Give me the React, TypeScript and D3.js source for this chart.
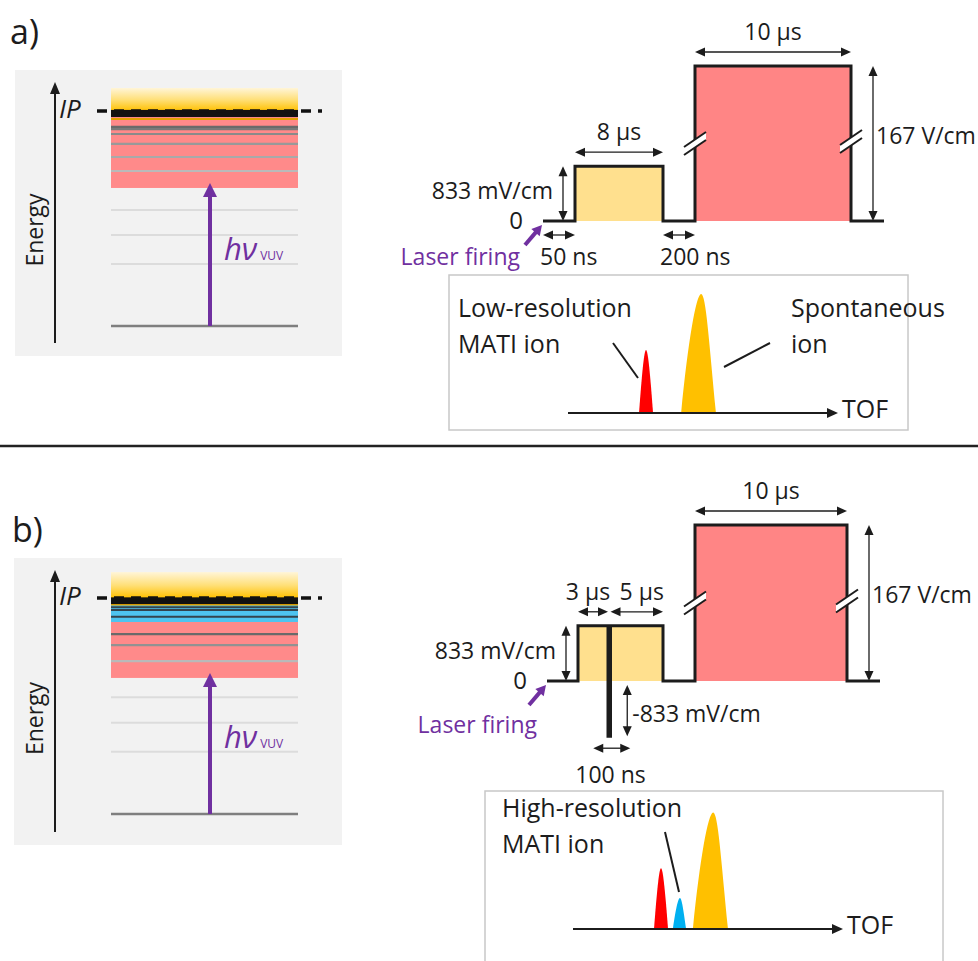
import React from "react";
import * as d3 from "d3";

const FONT = "'Open Sans', 'Liberation Sans', Arial, sans-serif";
const INK = "#1c1c1c";
const PURPLE = "#7030A0";
const FS = 23;

// ---------- energy-level diagrams (energy in % of the ionization potential) ----------
const energyAxisLabel = "Energy";
const ipLabel = "IP";
const ionizationPotential = 100;
const groundLevel = 0;
const boundLevels = [54.0, 42.3, 28.8];
const continuumTopA = 110.7;
const continuumTopB = 112;
const denseBandA = [97.2, 100.5];
const denseBandB = [97.2, 100.3];
const orangeLevelsA = [96.3];
const orangeLevelsB = [97.0];
const rydbergBottomA = 64.2;
const rydbergBottomB = 63.0;
const rydbergLevelsA = [92.6, 91.6, 89.3, 84.7, 78.6, 72.1];
const rydbergLevelsB = [83.3, 78.2, 70.8];
const selectedBandB = [88.9, 96.8];
const selectedLevelsB = [95.7, 94.4, 91.3];

// ---------- pulsed-field sequences (times in µs, fields in V/cm) ----------
const pulseEdgesA = [0, 0.05, 8.05, 8.25, 18.25];
const pulseFieldsA = [0, 0.833, 0, 167, 0];
const pulseEdgesB = [0, 0.05, 3.05, 3.15, 8.05, 8.25, 18.25];
const pulseFieldsB = [0, 0.833, -0.833, 0.833, 0, 167, 0];
const durationsA = [
  { segment: 0, text: "50 ns" },
  { segment: 1, text: "8 µs" },
  { segment: 2, text: "200 ns" },
  { segment: 3, text: "10 µs" },
];
const durationsB = [
  { segment: 1, text: "3 µs" },
  { segment: 2, text: "100 ns" },
  { segment: 3, text: "5 µs" },
  { segment: 5, text: "10 µs" },
];
const fieldLabels = { zero: "0", low: "833 mV/cm", high: "167 V/cm", negative: "-833 mV/cm" };
const laserLabel = "Laser firing";

// ---------- time-of-flight sketches (TOF in arbitrary units, intensity in %) ----------
const tofLabel = "TOF";
const peaksA = [
  { kind: "mati", start: 26.3, apex: 28.9, end: 31.5, height: 53 },
  { kind: "spont", start: 41.9, apex: 49.3, end: 54.8, height: 100 },
];
const peaksB = [
  { kind: "mati", start: 30.0, apex: 32.6, end: 35.2, height: 51 },
  { kind: "hires", start: 37.0, apex: 39.6, end: 41.9, height: 26 },
  { kind: "spont", start: 44.4, apex: 51.9, end: 57.4, height: 98 },
];
const peakLabelsA = [["Low-resolution", "MATI ion"], ["Spontaneous", "ion"]];
const peakLabelsB = [["High-resolution", "MATI ion"]];

const PEAK_COLORS: Record<string, string> = { mati: "#FF0000", hires: "#00B0F0", spont: "#FFC000" };

function Arrow({ x1, y1, x2, y2, color = INK, width = 1.3, head = 10, headW = 9, both = false }: any) {
  const dx = x2 - x1, dy = y2 - y1;
  const L = Math.hypot(dx, dy);
  const ux = dx / L, uy = dy / L;
  const tri = (tx: number, ty: number, sx: number, sy: number) => {
    const bx = tx - sx * head, by = ty - sy * head;
    const px = (-sy * headW) / 2, py = (sx * headW) / 2;
    return `M${tx},${ty}L${bx + px},${by + py}L${bx - px},${by - py}Z`;
  };
  const sx1 = both ? x1 + ux * head * 0.8 : x1;
  const sy1 = both ? y1 + uy * head * 0.8 : y1;
  const ex = x2 - ux * head * 0.8, ey = y2 - uy * head * 0.8;
  return (
    <g>
      <line x1={sx1} y1={sy1} x2={ex} y2={ey} stroke={color} strokeWidth={width} />
      <path d={tri(x2, y2, ux, uy)} fill={color} />
      {both && <path d={tri(x1, y1, -ux, -uy)} fill={color} />}
    </g>
  );
}

type EnergyProps = {
  box: number[]; y0: number; yIP: number; gid: string; continuumTop: number; dense: number[];
  orange: number[]; rydbergBottom: number; rydberg: number[]; selBand?: number[]; selLevels?: number[];
};

function EnergyPanel(p: EnergyProps) {
  const y = d3.scaleLinear().domain([groundLevel, ionizationPotential]).range([p.y0, p.yIP]);
  const bx0 = 111, bx1 = 298, bw = bx1 - bx0;
  const [bx, by, bwid, bh] = p.box;
  const axisX = 55, arrowX = 210;
  const shade = d3
    .scaleLinear<string>()
    .domain([0, Math.max(1, p.rydberg.length - 1)])
    .range(["#6a6a6a", "#b9b9b9"]);
  return (
    <g>
      <defs>
        <linearGradient id={p.gid} x1="0" y1="0" x2="0" y2="1">
          <stop offset="0" stopColor="#FFF5D8" />
          <stop offset="0.5" stopColor="#FFE07A" />
          <stop offset="1" stopColor="#FFC000" />
        </linearGradient>
      </defs>
      <rect x={bx} y={by} width={bwid} height={bh} fill="#F2F2F2" />
      <rect x={bx0} y={y(p.continuumTop)} width={bw} height={y(ionizationPotential) - y(p.continuumTop)} fill={`url(#${p.gid})`} />
      <rect x={bx0} y={y(ionizationPotential)} width={bw} height={y(p.rydbergBottom) - y(ionizationPotential)} fill="#FF8A8A" />
      {p.selBand && (
        <rect x={bx0} y={y(p.selBand[1])} width={bw} height={y(p.selBand[0]) - y(p.selBand[1])} fill="#4EC4F0" />
      )}
      {p.rydberg.map((e, i) => (
        <line key={"r" + i} x1={bx0} x2={bx1} y1={y(e)} y2={y(e)} stroke={shade(i)} strokeWidth={2.2} />
      ))}
      {(p.selLevels || []).map((e, i) => (
        <line key={"s" + i} x1={bx0} x2={bx1} y1={y(e)} y2={y(e)} stroke="#34444e" strokeWidth={2} />
      ))}
      {p.orange.map((e, i) => (
        <line key={"o" + i} x1={bx0} x2={bx1} y1={y(e)} y2={y(e)} stroke="#E0A000" strokeWidth={2} />
      ))}
      <rect x={bx0} y={y(p.dense[1])} width={bw} height={y(p.dense[0]) - y(p.dense[1])} fill="#111" />
      <line x1={97} x2={322} y1={y(ionizationPotential)} y2={y(ionizationPotential)} stroke="#111" strokeWidth={3.5} strokeDasharray="10 7" />
      <text x={59} y={y(ionizationPotential) + 7} fontSize={26} fontStyle="italic" fill={INK}>{ipLabel}</text>
      {boundLevels.map((e, i) => (
        <line key={"b" + i} x1={bx0} x2={bx1} y1={y(e)} y2={y(e)} stroke="#DCDCDC" strokeWidth={2} />
      ))}
      <line x1={bx0} x2={bx1} y1={y(groundLevel)} y2={y(groundLevel)} stroke="#7F7F7F" strokeWidth={2.5} />
      <Arrow x1={axisX} y1={by + bh - 13} x2={axisX} y2={by + 12} width={2} head={12} headW={10} />
      <text transform={`translate(${axisX - 12},${by + bh / 2 + 17}) rotate(-90)`} textAnchor="middle" fontSize={23} fill={INK}>
        {energyAxisLabel}
      </text>
      <Arrow x1={arrowX} y1={y(groundLevel)} x2={arrowX} y2={y(p.rydbergBottom) - 5} color={PURPLE} width={4} head={14} headW={14} />
      <text x={224} y={y(30.5)} fill={PURPLE} fontSize={31} fontStyle="italic">
        hν
        <tspan fontSize={12} fontStyle="normal" dx={3}>VUV</tspan>
      </text>
    </g>
  );
}

function BreakMark({ cx, cy }: { cx: number; cy: number }) {
  const w = 11, s = 7.5, g = 4;
  const poly = `M${cx - w},${cy - g + s}L${cx + w},${cy - g - s}L${cx + w},${cy + g - s}L${cx - w},${cy + g + s}Z`;
  return (
    <g>
      <path d={poly} fill="#fff" />
      <line x1={cx - w} y1={cy - g + s} x2={cx + w} y2={cy - g - s} stroke={INK} strokeWidth={2} />
      <line x1={cx - w} y1={cy + g + s} x2={cx + w} y2={cy + g - s} stroke={INK} strokeWidth={2} />
    </g>
  );
}

function PulsePanel({ edges, fields, xr, yr, durations, nudges, laserGap, laserDy }: any) {
  const tEnd = edges[edges.length - 1] + 1.25;
  const x = d3.scaleLinear().domain([...edges, tEnd]).range(xr);
  const y = d3.scaleSymlog().constant(0.05).domain([0, 167]).range(yr);
  const pts: [number, number][] = edges.map((t: number, i: number) => [x(t), y(fields[i])] as [number, number]);
  pts.push([x(tEnd), y(0)]);
  const step = d3.line().curve(d3.curveStepAfter)(pts) || "";
  const fillFor = (f: number) => (f > 1 ? "#FF8585" : f > 0 ? "#FFE08E" : INK);
  const segs = edges.map((t: number, i: number) => ({ i, t0: t, t1: i + 1 < edges.length ? edges[i + 1] : tEnd, f: fields[i] }));
  const lowSeg = segs.find((s: any) => s.f > 0 && s.f < 1);
  const highSeg = segs.find((s: any) => s.f > 1);
  const negSeg = segs.find((s: any) => s.f < 0);
  const base = y(0);
  const mid = (y(0) + y(167)) / 2;
  const lowArrowX = x(lowSeg.t0) - 12;
  const highArrowX = x(highSeg.t1) + 22;
  return (
    <g>
      {segs.filter((s: any) => s.f !== 0).map((s: any) => (
        <rect key={s.i} x={x(s.t0)} y={Math.min(y(s.f), base)} width={x(s.t1) - x(s.t0)} height={Math.abs(y(s.f) - base)} fill={fillFor(s.f)} />
      ))}
      <path d={step} fill="none" stroke={INK} strokeWidth={3} />
      <BreakMark cx={x(highSeg.t0)} cy={mid} />
      <BreakMark cx={x(highSeg.t1)} cy={mid - 2} />

      {durations.map((d: any, k: number) => {
        const s = segs[d.segment];
        const x0 = x(s.t0), x1 = x(s.t1);
        if (s.f > 0) {
          const ay = y(s.f) - 14;
          return (
            <g key={k}>
              <Arrow x1={x0} y1={ay} x2={x1} y2={ay} both />
              <text x={(x0 + x1) / 2 + ((nudges && nudges[d.segment]) || 0)} y={ay - 12} textAnchor="middle" fontSize={FS} fill={INK}>{d.text}</text>
            </g>
          );
        }
        if (s.f < 0) {
          const cx = (x0 + x1) / 2;
          const ay = y(s.f) + 12;
          return (
            <g key={k}>
              <Arrow x1={cx - 16} y1={ay} x2={cx + 21} y2={ay} both />
              <text x={cx - 34} y={ay + 35} fontSize={FS} fill={INK}>{d.text}</text>
            </g>
          );
        }
        const ay = base + 14;
        return (
          <g key={k}>
            <Arrow x1={x0} y1={ay} x2={x1} y2={ay} both />
            <text x={x0 - 3} y={base + 44} fontSize={FS} fill={INK}>{d.text}</text>
          </g>
        );
      })}

      <text x={x(0) - 20} y={base + 8} textAnchor="end" fontSize={FS + 1} fill={INK}>{fieldLabels.zero}</text>
      <Arrow x1={lowArrowX} y1={y(lowSeg.f)} x2={lowArrowX} y2={base} both />
      <text x={lowArrowX - 10} y={base - 22} textAnchor="end" fontSize={FS} fill={INK}>{fieldLabels.low}</text>
      <Arrow x1={highArrowX} y1={y(highSeg.f)} x2={highArrowX} y2={base} both />
      <text x={highArrowX + 3} y={mid} fontSize={FS} fill={INK}>{fieldLabels.high}</text>
      {negSeg && (() => {
        const cx = (x(negSeg.t0) + x(negSeg.t1)) / 2 + 18;
        return (
          <g>
            <Arrow x1={cx} y1={base + 4} x2={cx} y2={y(negSeg.f)} both />
            <text x={cx + 5} y={base + 41} fontSize={FS} fill={INK}>{fieldLabels.negative}</text>
          </g>
        );
      })()}

      <Arrow x1={x(0) - 18} y1={base + 24} x2={x(0) - 1} y2={base + 4} color={PURPLE} width={4} head={10} headW={11} />
      <text x={x(0) - laserGap} y={base + laserDy} textAnchor="end" fontSize={FS} fill={PURPLE}>{laserLabel}</text>
    </g>
  );
}

function peakPath(x0: number, xa: number, x1: number, basey: number, top: number) {
  const w = x1 - x0;
  const h = basey - top;
  const p = d3.path();
  p.moveTo(x0, basey);
  p.bezierCurveTo(x0 + w * 0.2, basey - h * 0.6, xa - w * 0.14, top, xa, top);
  p.bezierCurveTo(xa + w * 0.14, top, x1 - w * 0.2, basey - h * 0.6, x1, basey);
  p.closePath();
  return p.toString();
}

function TofInset({ box, axis, peaks, labels, leaders }: any) {
  const [ax0, ax1, ay] = axis;
  const x = d3.scaleLinear().domain([0, 100]).range([ax0, ax1]);
  const h = d3.scaleLinear().domain([0, 100]).range([ay, ay - 119]);
  return (
    <g>
      <rect x={box[0]} y={box[1]} width={box[2]} height={box[3]} fill="#fff" stroke="#C8C8C8" strokeWidth={1.5} />
      {peaks.map((pk: any, i: number) => (
        <path key={i} d={peakPath(x(pk.start), x(pk.apex), x(pk.end), ay, h(pk.height))} fill={PEAK_COLORS[pk.kind]} />
      ))}
      <Arrow x1={ax0} y1={ay} x2={ax1} y2={ay} width={2} head={11} headW={10} />
      <text x={ax1 + 4} y={ay + 5} fontSize={25} fill={INK}>{tofLabel}</text>
      {labels.map((l: any, i: number) => (
        <text key={i} x={l.x} y={l.y} fontSize={25} fill={INK}>
          <tspan x={l.x} dy={0}>{l.lines[0]}</tspan>
          <tspan x={l.x} dy={36}>{l.lines[1]}</tspan>
        </text>
      ))}
      {leaders.map((ld: number[], i: number) => (
        <line key={i} x1={ld[0]} y1={ld[1]} x2={ld[2]} y2={ld[3]} stroke={INK} strokeWidth={2} />
      ))}
    </g>
  );
}

export default function App() {
  return (
    <svg
      width={978}
      height={961}
      viewBox="0 0 978 961"
      style={{ position: "absolute", left: 0, top: 0, display: "block", background: "#fff" }}
      fontFamily={FONT}
    >
      <rect x={0} y={0} width={978} height={961} fill="#fff" />
      <text x={10} y={44} fontSize={34} fill={INK}>a)</text>
      <text x={12} y={542} fontSize={34} fill={INK}>b)</text>
      <line x1={0} x2={978} y1={446} y2={446} stroke="#222" strokeWidth={2.5} />

      <EnergyPanel
        box={[15, 70, 327, 286]} y0={326} yIP={111} gid="contA"
        continuumTop={continuumTopA} dense={denseBandA} orange={orangeLevelsA}
        rydbergBottom={rydbergBottomA} rydberg={rydbergLevelsA}
      />
      <EnergyPanel
        box={[14, 558, 328, 287]} y0={814} yIP={598} gid="contB"
        continuumTop={continuumTopB} dense={denseBandB} orange={orangeLevelsB}
        rydbergBottom={rydbergBottomB} rydberg={rydbergLevelsB}
        selBand={selectedBandB} selLevels={selectedLevelsB}
      />

      <PulsePanel
        edges={pulseEdgesA} fields={pulseFieldsA}
        xr={[543, 575, 663, 695, 851, 884]} yr={[221, 66]}
        durations={durationsA} laserGap={23} laserDy={44}
      />
      <PulsePanel
        edges={pulseEdgesB} fields={pulseFieldsB}
        xr={[547, 578, 608, 610.5, 663, 695, 847, 880]} yr={[681, 525]}
        durations={durationsB} nudges={{ 1: -5, 3: 5 }} laserGap={10} laserDy={52}
      />

      <TofInset
        box={[449, 275, 459, 155]} axis={[568, 838, 413]} peaks={peaksA}
        labels={[
          { x: 458, y: 317, lines: peakLabelsA[0] },
          { x: 791, y: 317, lines: peakLabelsA[1] },
        ]}
        leaders={[[613, 343, 638, 378], [770, 343, 724, 367]]}
      />
      <TofInset
        box={[485, 791, 458, 200]} axis={[573, 843, 929]} peaks={peaksB}
        labels={[{ x: 502, y: 817, lines: peakLabelsB[0] }]}
        leaders={[[665, 832, 679, 892]]}
      />
    </svg>
  );
}
